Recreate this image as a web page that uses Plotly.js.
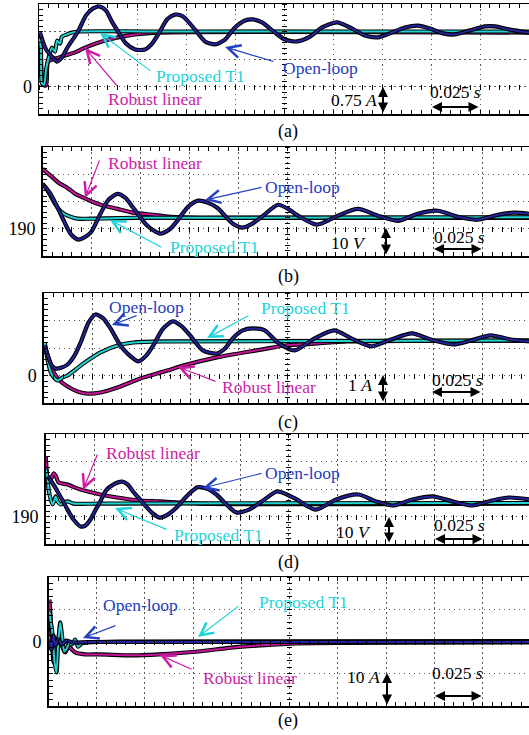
<!DOCTYPE html>
<html><head><meta charset="utf-8">
<script src="https://cdn.plot.ly/plotly-3.0.1.min.js"></script>
<style>html,body{margin:0;padding:0;background:#fff}#g{width:529px;height:735px}</style>
</head><body><div id="g"></div>
<script>
// ---- data (time in ms, values in A or V) ----
const a_open_t = [0.5,3.6,7.1,9.2,11.7,14.8,19.9,24.0,27.6,31.1,34.2,37.2,40.3,44.4,49.0,54.1,57.7,61.7,65.3,69.4,73.5,79.6,84.7,89.8,94.9,100.0,105.1,109.2,113.8,120.4,125.5,131.6,138.3,144.4,152.0,158.7,166.3,173.0,179.1,186.7,193.4,199.5,206.1,212.2,219.9,227.6,232.7,240.3,250.0];
const a_open_v = [1.47,1.01,0.79,0.68,0.79,1.09,1.50,1.94,2.13,2.18,2.07,1.77,1.50,1.17,1.01,1.01,1.17,1.50,1.83,1.96,1.91,1.55,1.23,1.15,1.28,1.61,1.80,1.83,1.75,1.47,1.28,1.23,1.36,1.61,1.75,1.61,1.39,1.34,1.45,1.61,1.66,1.58,1.45,1.42,1.53,1.64,1.64,1.55,1.47];
const a_prop_t = [0,1.0,1.5,2.6,3.6,5.1,6.6,8.2,9.2,10.7,11.7,14.3,16.8,19.9,56.6,133.2,250];
const a_prop_v = [1.47,1.01,0.08,0.05,0.46,0.82,1.06,0.95,1.25,1.17,1.36,1.42,1.47,1.50,1.50,1.50,1.50];
const a_rob_t = [0,1.0,2.0,3.6,4.1,4.6,7.1,11.7,18.4,23.5,32.1,40.3,49.0,61.7,250];
const a_rob_v = [1.45,0.74,0.05,0.03,0.46,0.68,0.74,0.82,0.93,1.06,1.23,1.34,1.42,1.47,1.47];

const b_open_t = [0,4.1,9.2,14.3,18.4,24.5,29.6,33.7,38.3,42.3,46.4,53.6,60.2,65.3,68.9,74.5,79.6,84.7,89.3,97.4,102.0,107.1,112.8,120.4,125.5,130.6,140.3,151.0,161.2,171.4,181.6,191.8,202.0,212.2,222.4,232.7,241.0,248.7];
const b_open_v = [206.5,202.8,195.5,188.2,186.0,188.5,195.5,200.6,202.8,201.4,197.7,191.1,188.2,190.0,192.9,198.1,200.3,199.5,197.7,191.8,190.4,191.8,194.8,198.8,197.3,194.8,191.5,194.8,197.3,194.8,192.9,195.5,196.6,194.4,193.3,195.1,195.9,195.5];
const b_rob_t = [0,4.1,8.2,12.8,16.8,20.9,25.5,29.6,38.3,46.4,56.6,65.3,80.6,248.7];
const b_rob_v = [212.0,209.5,206.9,205.0,202.8,201.4,199.9,198.8,197.3,195.9,195.1,194.4,194.0,194.0];
const b_prop_t = [0,2.0,4.1,6.1,8.2,10.2,12.8,17.9,24.5,46.4,248.7];
const b_prop_v = [206.5,204.7,202.1,199.5,197.3,195.9,194.8,193.7,193.7,194.0,194.2];

const c_open_t = [0.5,2.0,4.1,6.1,9.2,12.2,15.8,18.9,23.0,26.5,30.6,34.2,39.3,42.9,48.5,52.6,56.1,61.2,66.3,70.9,75.0,81.6,88.8,92.9,96.9,102.0,107.1,113.3,119.9,128.6,138.8,149.0,157.7,167.9,178.1,188.8,198.5,210.2,218.9,229.1,239.3,248.8];
const c_open_v = [1.10,0.73,0.36,0.25,0.29,0.40,0.73,1.20,1.93,2.22,2.07,1.71,1.09,0.80,0.51,0.73,1.09,1.71,1.97,1.78,1.46,0.91,0.80,0.98,1.35,1.64,1.71,1.64,1.20,0.91,1.35,1.64,1.35,1.06,1.31,1.53,1.31,1.13,1.27,1.46,1.31,1.24];
const c_prop_t = [0.5,2.0,3.6,5.6,7.1,9.7,12.2,16.3,20.4,25.0,29.1,37.8,45.9,63.3,248.8];
const c_prop_v = [1.20,0.55,0.11,-0.11,-0.18,-0.07,0.0,0.22,0.44,0.66,0.84,1.09,1.20,1.24,1.27];
const c_rob_t = [0.5,2.0,5.1,8.7,12.2,17.3,22.4,29.1,37.8,49.5,63.3,71.4,88.8,112.2,123.5,138.8,155.6,248.8];
const c_rob_v = [1.09,0.73,0.11,-0.22,-0.40,-0.58,-0.66,-0.62,-0.44,-0.11,0.18,0.36,0.66,0.95,1.09,1.16,1.24,1.27];

const d_open_t = [1.0,3.6,6.1,8.7,11.2,14.3,17.9,20.4,23.0,25.5,28.1,31.1,34.7,39.3,42.3,44.9,48.5,52.0,55.1,58.7,62.8,67.3,72.4,78.1,82.7,87.8,92.9,98.0,104.6,111.2,118.9,124.0,129.1,138.8,149.5,160.7,169.9,178.6,188.8,199.0,209.2,219.4,229.6,238.3,248.6];
const d_open_v = [204.6,202.0,199.1,195.8,192.5,188.9,186.4,186.7,188.9,192.2,195.5,199.5,201.6,202.7,201.6,199.1,196.2,193.3,191.1,189.6,190.7,193.3,197.3,200.6,200.2,198.0,194.4,191.5,192.5,195.5,199.1,198.0,196.2,192.5,196.2,198.0,195.5,194.0,196.2,197.3,195.5,194.0,195.8,196.9,196.2];
const d_rob_t = [0,0.5,1.0,2.0,3.1,4.1,5.1,6.6,11.2,17.9,28.1,36.7,48.5,58.7,79.1,248.6];
const d_rob_v = [211.8,207.1,203.5,202.7,204.2,205.7,204.9,202.4,201.6,199.8,198.0,196.9,195.8,195.5,194.7,194.7];
const d_prop_t = [0,1.0,1.5,2.6,3.6,4.6,5.1,6.1,7.7,9.2,11.2,14.3,28.1,248.6];
const d_prop_v = [207.1,203.5,199.8,196.2,194.4,196.2,197.3,195.5,194.4,195.1,195.5,194.7,194.7,194.9];

const e_rob_t = [0.5,1.0,1.5,2.0,2.6,3.6,5.1,6.1,7.1,8.7,10.2,12.2,13.8,18.9,26.5,43.4,57.1,77.6,94.4,109.7,128.6,249];
const e_rob_v = [13.0,8.4,2.2,-1.9,-6.5,-3.1,1.2,2.8,-1.6,-3.4,-1.6,-2.5,-3.4,-4.0,-4.0,-4.3,-4.0,-3.1,-1.9,-1.2,-0.6,-0.3];
const e_prop_t = [0.5,1.0,2.0,3.1,4.1,5.1,6.1,7.1,8.2,9.7,10.7,12.2,13.8,15.3,17.3,20.4,36.7,249];
const e_prop_v = [9.3,6.8,2.8,-6.2,-9.6,0,5.9,1.2,-3.1,-1.9,-0.3,-0.9,0.6,-1.6,-0.6,-0.3,0,0.15];
const e_open_t = [0.5,1.5,2.6,3.6,5.1,7.1,9.2,12.2,21.4,249];
const e_open_v = [0.6,-2.5,1.9,-1.2,0.6,-0.9,0.3,-0.3,-0.15,-0.15];

const yLabels = ['0','190','0','190','0'];
const yLabelVals = [0,190,0,190,0];
const scaleLabels = ['0.75 <i>A</i>','10 <i>V</i>','1 <i>A</i>','10 <i>V</i>','10 <i>A</i>'];
const captions = ['(a)','(b)','(c)','(d)','(e)'];
const names = ['Open-loop','Proposed T1','Robust linear'];

// ---- layout geometry ----
const W = 529, H = 735;
const FONT = 'Liberation Serif';
const panels = [
  {left:39,   top:4,   bottom:114, xr:250,   yr:[-0.75,2.25], dy:0.75},
  {left:42.5, top:147, bottom:256, xr:248.7, yr:[180,220],    dy:10},
  {left:43.8, top:293, bottom:403, xr:248.8, yr:[-1,3],       dy:1},
  {left:45.7, top:434, bottom:544, xr:248.6, yr:[180,220],    dy:10},
  {left:48.5, top:577, bottom:706, xr:249,   yr:[-20,20],     dy:10}
];
const series = [
  {rob:[a_rob_t,a_rob_v], prop:[a_prop_t,a_prop_v], open:[a_open_t,a_open_v]},
  {rob:[b_rob_t,b_rob_v], prop:[b_prop_t,b_prop_v], open:[b_open_t,b_open_v]},
  {rob:[c_rob_t,c_rob_v], prop:[c_prop_t,c_prop_v], open:[c_open_t,c_open_v]},
  {rob:[d_rob_t,d_rob_v], prop:[d_prop_t,d_prop_v], open:[d_open_t,d_open_v]},
  {rob:[e_rob_t,e_rob_v], prop:[e_prop_t,e_prop_v], open:[e_open_t,e_open_v]}
];
const COL = {open:'#23239c', prop:'#22d2d2', rob:'#c8149c'};
const TXT = {open:'#2340c0', prop:'#1ed3d8', rob:'#cc1fa6'};

const traces = [];
const layout = {
  width:W, height:H, margin:{l:0,r:0,t:0,b:0}, showlegend:false,
  paper_bgcolor:'#fff', plot_bgcolor:'#fff', annotations:[], shapes:[]
};
const tickBase = {tickcolor:'#000', tickwidth:1};
let extra = 20;

panels.forEach((p,i)=>{
  const n = i===0 ? '' : String(i+1);
  const xa = 'x'+n, ya = 'y'+n;
  ['rob','prop','open'].forEach(k=>{
    const [t,v] = series[i][k];
    traces.push({x:t, y:v, xaxis:xa, yaxis:ya, mode:'lines', hoverinfo:'skip',
      line:{color:'#000', width:4.2, shape:'spline', smoothing:0.7}});
    traces.push({x:t, y:v, xaxis:xa, yaxis:ya, mode:'lines', name:names[['open','prop','rob'].indexOf(k)],
      line:{color:COL[k], width:2, shape:'spline', smoothing:0.7}});
  });
  const nd = Math.round((p.yr[1]-p.yr[0])/p.dy);
  const tv = [], tt = [];
  for(let j=0;j<=nd;j++){ const val = +(p.yr[0]+j*p.dy).toFixed(4); tv.push(val); tt.push(Math.abs(val-yLabelVals[i])<1e-6 ? yLabels[i] : ''); }
  const xdom = [p.left/W, 1], ydom = [1-p.bottom/H, 1-p.top/H];
  layout['xaxis'+n] = Object.assign({
    domain:xdom, range:[0,p.xr], anchor:ya, fixedrange:true,
    tickmode:'linear', tick0:0, dtick:25, showticklabels:false,
    ticks:'inside', ticklen:4,
    showgrid:true, gridcolor:'#555', griddash:'1.5px,3.5px', gridwidth:1,
    showline:true, linecolor:'#000', linewidth:1.5, mirror:'allticks', zeroline:false,
    minor:Object.assign({tickmode:'linear', tick0:0, dtick:5, ticks:'inside', ticklen:4, showgrid:false}, tickBase)
  }, tickBase);
  layout['yaxis'+n] = Object.assign({
    domain:ydom, range:p.yr, anchor:xa, fixedrange:true,
    tickmode:'array', tickvals:tv, ticktext:tt,
    ticks:'inside', ticklen:4,
    tickfont:{family:FONT, size:18, color:'#000'}, ticklabelstandoff:2,
    showgrid:true, gridcolor:'#555', griddash:'1.5px,3.5px', gridwidth:1,
    showline:true, linecolor:'#000', linewidth:1.5, mirror:false, zeroline:false,
    minor:Object.assign({tickmode:'linear', tick0:p.yr[0], dtick:p.dy/5, ticks:'inside', ticklen:4, showgrid:false}, tickBase)
  }, tickBase);
  // crosshair tick rows: horizontal through the labelled level, vertical through the centre division
  const plotW = W - p.left, plotH = p.bottom - p.top;
  const hy = p.bottom - (yLabelVals[i]-p.yr[0])/(p.yr[1]-p.yr[0])*plotH;
  const cx = p.left + (125/p.xr)*plotW;
  const exN = String(extra), eyN = String(extra+1);
  layout['xaxis'+exN] = Object.assign({
    domain:xdom, range:[0,p.xr], overlaying:xa, anchor:'free', position:1-(hy-2.5)/H, side:'bottom',
    showgrid:false, zeroline:false, showline:false, showticklabels:false, fixedrange:true,
    tickmode:'linear', tick0:0, dtick:25, ticks:'outside', ticklen:5,
    minor:Object.assign({tickmode:'linear', tick0:0, dtick:5, ticks:'outside', ticklen:5, showgrid:false}, tickBase)
  }, tickBase);
  layout['yaxis'+eyN] = Object.assign({
    domain:ydom, range:p.yr, overlaying:ya, anchor:'free', position:(cx+2.5)/W, side:'left',
    showgrid:false, zeroline:false, showline:false, showticklabels:false, fixedrange:true,
    tickmode:'linear', tick0:p.yr[0], dtick:p.dy, ticks:'outside', ticklen:5,
    minor:Object.assign({tickmode:'linear', tick0:p.yr[0], dtick:p.dy/5, ticks:'outside', ticklen:5, showgrid:false}, tickBase)
  }, tickBase);
  traces.push({x:[], y:[], xaxis:'x'+exN, yaxis:'y'+eyN, mode:'lines', hoverinfo:'skip', showlegend:false});
  extra += 2;
});

// ---- annotation helpers (pixel positions converted to paper) ----
function txt(c, s, color, size){
  return {xref:'paper', yref:'paper', x:c[0]/W, y:1-c[1]/H, text:s, showarrow:false,
    xanchor:'center', yanchor:'middle', font:{family:FONT, size:size||17.5, color:color}};
}
function arrow(tip, tail, color){
  return {xref:'paper', yref:'paper', x:tip[0]/W, y:1-tip[1]/H, ax:tail[0]-tip[0], ay:tail[1]-tip[1],
    text:'', showarrow:true, arrowhead:5, arrowsize:2.1, arrowwidth:1.2, arrowcolor:color, standoff:0};
}
function dbl(p1, p2){
  return {xref:'paper', yref:'paper', x:p1[0]/W, y:1-p1[1]/H, ax:p2[0]-p1[0], ay:p2[1]-p1[1],
    text:'', showarrow:true, arrowhead:2, startarrowhead:2, arrowside:'end+start', arrowsize:1, startarrowsize:1,
    arrowwidth:2, arrowcolor:'#000', standoff:0, startstandoff:0};
}
const A = layout.annotations;
const lab = [
  {k:'prop', c:[200,76], tip:[100,33], tail:[152,72]},
  {k:'rob',  c:[155,99], tip:[85,48],  tail:[118,87]},
  {k:'open', c:[320,68], tip:[225,47], tail:[275,62]},
  {k:'rob',  c:[155,163], tip:[85,198],  tail:[100,159]},
  {k:'open', c:[302,187], tip:[205,200], tail:[263,187]},
  {k:'prop', c:[214,247], tip:[110,220], tail:[163,248]},
  {k:'open', c:[146,307], tip:[112,325], tail:[138,315]},
  {k:'prop', c:[305,308], tip:[207,338], tail:[250,315]},
  {k:'rob',  c:[269,387], tip:[178,367], tail:[217,382]},
  {k:'rob',  c:[153,453], tip:[83,490],  tail:[98,453]},
  {k:'open', c:[302,473], tip:[203,488], tail:[263,473]},
  {k:'prop', c:[218,535], tip:[115,508], tail:[168,530]},
  {k:'open', c:[140,605], tip:[83,638],  tail:[117,625]},
  {k:'prop', c:[303,602], tip:[198,637], tail:[240,605]},
  {k:'rob',  c:[250,678], tip:[160,655], tail:[193,670]}
];
lab.forEach(o=>{
  A.push(arrow(o.tip, o.tail, TXT[o.k]));
  A.push(txt(o.c, names[['open','prop','rob'].indexOf(o.k)], TXT[o.k]));
});
const scales = [
  {lc:[354,100], v:[383,87,383,114], sc:[455,92],  h:[432,107,480,107], cap:[288,131]},
  {lc:[348,243], v:[386,228,386,256], sc:[459,237], h:[434,249,483,249], cap:[288,277]},
  {lc:[360,385], v:[383,375,383,403], sc:[457,380], h:[432,392,482,392], cap:[288,422]},
  {lc:[353,532], v:[389,517,389,544], sc:[459,525], h:[435,539,484,539], cap:[288,562]},
  {lc:[363,677], v:[387,673,387,706], sc:[457,673], h:[435,696,483,696], cap:[288,720]}
];
scales.forEach((s,i)=>{
  A.push(txt(s.lc, scaleLabels[i], '#000', 17.5));
  A.push(dbl([s.v[0],s.v[1]],[s.v[2],s.v[3]]));
  A.push(txt(s.sc, '0.025 <i>s</i>', '#000', 17.5));
  A.push(dbl([s.h[0],s.h[1]],[s.h[2],s.h[3]]));
  A.push(txt(s.cap, captions[i], '#000', 18));
});

Plotly.newPlot('g', traces, layout, {staticPlot:true, displayModeBar:false});
</script></body></html>
